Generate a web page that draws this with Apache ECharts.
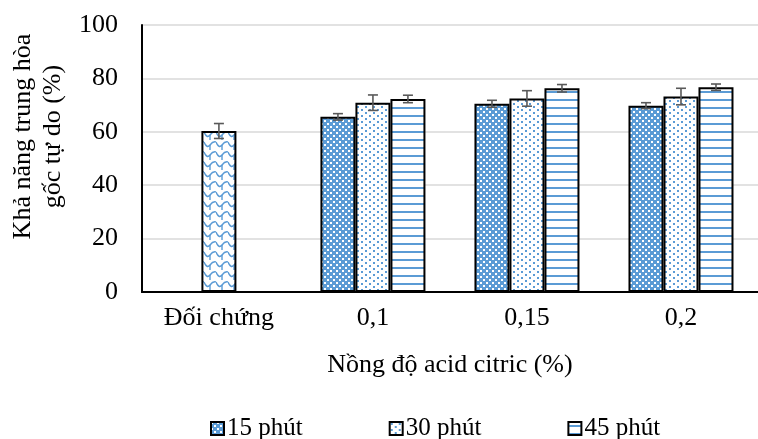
<!DOCTYPE html>
<html>
<head>
<meta charset="utf-8">
<script src="https://cdn.jsdelivr.net/npm/echarts@6/dist/echarts.min.js"></script>
<style>
  html, body { margin: 0; padding: 0; background: #fff; }
  #chart { width: 758px; height: 439px; }
</style>
</head>
<body>
<div id="chart"></div>
<script>
const categories = ["Đối chứng", "0,1", "0,15", "0,2"];
const seriesNames = ["15 phút", "30 phút", "45 phút"];
// first category holds only the control value (drawn in the middle slot)
const min15 = [null, 65.6, 70.5, 69.8];
const min30 = [60.3, 70.9, 72.5, 73.2];
const min45 = [null, 72.3, 76.3, 76.7];
const err15 = [null, 1.2, 1.3, 1.1];
const err30 = [2.8, 2.9, 2.9, 3.1];
const err45 = [null, 1.4, 1.4, 1.2];
const yTicks = [0, 20, 40, 60, 80, 100];

const blue = "#5B9BD5";
const font = "'Liberation Serif', 'Times New Roman', serif";

function makePattern(w, h, draw) {
  const c = document.createElement("canvas");
  c.width = w;
  c.height = h;
  const ctx = c.getContext("2d");
  ctx.fillStyle = "#fff";
  ctx.fillRect(0, 0, w, h);
  draw(ctx);
  return { image: c, repeat: "repeat" };
}

const pat15 = makePattern(6, 6, (ctx) => {
  ctx.fillStyle = blue;
  ctx.fillRect(0, 0, 6, 6);
  ctx.fillStyle = "#fff";
  ctx.fillRect(0, 0, 2, 2);
  ctx.fillRect(3, 3, 2, 2);
});
const pat30 = makePattern(8, 6, (ctx) => {
  ctx.fillStyle = blue;
  ctx.fillRect(1, 1, 2, 2);
  ctx.fillRect(5, 4, 2, 2);
});
const pat45 = makePattern(8, 8, (ctx) => {
  ctx.fillStyle = blue;
  ctx.fillRect(0, 3, 8, 2);
});
const patCtrl = makePattern(12, 10, (ctx) => {
  ctx.strokeStyle = blue;
  ctx.lineWidth = 1.4;
  ctx.beginPath();
  ctx.moveTo(0, 2);
  ctx.quadraticCurveTo(3, 9, 6, 5);
  ctx.quadraticCurveTo(9, 1, 12, 2);
  ctx.stroke();
  ctx.beginPath();
  ctx.moveTo(6, 5);
  ctx.lineTo(6, 10);
  ctx.stroke();
});

const barW = 35;
const valuesBySeries = [min15, min30, min45];
const errBySeries = [err15, err30, err45];
const errData = [];
valuesBySeries.forEach((vals, s) => {
  vals.forEach((v, i) => {
    if (v != null) errData.push([i, v, errBySeries[s][i], s]);
  });
});

function toData(vals, s) {
  return vals.map((v, i) => {
    if (v == null) return "-";
    if (s === 1 && i === 0) return { value: v, itemStyle: { color: patCtrl } };
    return v;
  });
}

const chart = echarts.init(document.getElementById("chart"));
chart.setOption({
  animation: false,
  textStyle: { fontFamily: font },
  grid: { left: 141, top: 25, width: 624, height: 267 },
  legend: {
    data: seriesNames,
    left: 205,
    top: 411,
    itemGap: 86,
    itemWidth: 13,
    itemHeight: 13,
    icon: "rect",
    textStyle: { fontFamily: font, fontSize: 25, color: "#000", padding: [0, 0, 0, -2] },
  },
  xAxis: {
    type: "category",
    data: categories,
    axisLine: { lineStyle: { color: "#000", width: 2 } },
    axisTick: { show: false },
    axisLabel: { fontFamily: font, fontSize: 26, color: "#000", margin: 13 },
    name: "Nồng độ acid citric (%)",
    nameLocation: "middle",
    nameGap: 60,
    nameTextStyle: { fontFamily: font, fontSize: 26, color: "#000" },
  },
  yAxis: {
    type: "value",
    min: yTicks[0],
    max: yTicks[yTicks.length - 1],
    interval: 20,
    axisLine: { show: true, lineStyle: { color: "#000", width: 2 } },
    axisTick: { show: false },
    splitLine: { lineStyle: { color: "#d9d9d9", width: 1.5 } },
    axisLabel: { fontFamily: font, fontSize: 26, color: "#000", margin: 24 },
    name: "Khả năng trung hòa\ngốc tự do (%)",
    nameLocation: "middle",
    nameRotate: 90,
    nameGap: 73,
    nameTextStyle: {
      fontFamily: font,
      fontSize: 26,
      color: "#000",
      lineHeight: 30,
      padding: [0, 0, 0, 44],
    },
  },
  series: [
    ...valuesBySeries.map((vals, s) => ({
      name: seriesNames[s],
      type: "bar",
      barWidth: barW,
      barGap: 0,
      data: toData(vals, s),
      itemStyle: {
        color: [pat15, pat30, pat45][s],
        borderColor: "#000",
        borderWidth: 2,
      },
    })),
    {
      type: "custom",
      name: "err",
      data: errData,
      z: 10,
      renderItem: (params, api) => {
        const cat = api.value(0);
        const v = api.value(1);
        const e = api.value(2);
        const s = api.value(3);
        const top = api.coord([cat, v + e]);
        const bot = api.coord([cat, v - e]);
        const x = top[0] + (s - 1) * barW;
        const cap = 5;
        const style = { stroke: "#595959", lineWidth: 1.6 };
        return {
          type: "group",
          children: [
            { type: "line", shape: { x1: x, y1: top[1], x2: x, y2: bot[1] }, style },
            { type: "line", shape: { x1: x - cap, y1: top[1], x2: x + cap, y2: top[1] }, style },
            { type: "line", shape: { x1: x - cap, y1: bot[1], x2: x + cap, y2: bot[1] }, style },
          ],
        };
      },
    },
  ],
});
</script>
</body>
</html>
